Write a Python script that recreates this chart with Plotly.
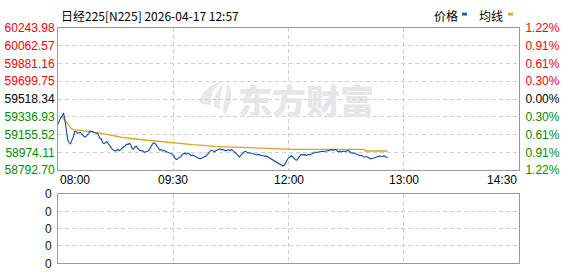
import plotly.graph_objects as go

# ---------------- data ----------------
price = [59264, 59303, 59330, 59344, 59376, 59300, 59218, 59100, 59075, 59062,
         59102, 59131, 59189, 59186, 59170, 59175, 59180, 59165, 59151, 59131,
         59137, 59151, 59170, 59192, 59189, 59185, 59175, 59170, 59170, 59151,
         59119, 59112, 59073, 59064, 59078, 59086, 59064, 59041, 59015, 59003,
         58996, 58989, 58996, 59006, 58991, 59006, 59025, 59032, 59038, 59059,
         59054, 59068, 59054, 59015, 59006, 59030, 59037, 59017, 59001, 58993,
         58989, 58989, 58976, 58978, 58986, 58994, 59015, 59044, 59068, 59070,
         59059, 59035, 59010, 58999, 59004, 58991, 58994, 58986, 58976, 58974,
         58967, 58964, 58952, 58938, 58909, 58902, 58914, 58923, 58933, 58957,
         58964, 58967, 58957, 58965, 58962, 58945, 58946, 58945, 58936, 58926,
         58918, 58912, 58911, 58916, 58925, 58930, 58938, 58952, 58976, 58991,
         58999, 58990, 58981, 58991, 59001, 59007, 59011, 59001, 59004, 58996,
         58991, 58998, 59004, 58991, 59004, 58996, 58981, 58971, 58957, 58942,
         58928, 58947, 58967, 58976, 58988, 58980, 58969, 58971, 58967, 58965,
         58965, 58957, 58949, 58955, 58952, 58945, 58941, 58941, 58935, 58939,
         58930, 58918, 58914, 58909, 58899, 58885, 58878, 58865, 58856, 58851,
         58844, 58836, 58846, 58875, 58904, 58920, 58928, 58940, 58928, 58914,
         58899, 58896, 58916, 58938, 58955, 58950, 58950, 58952, 58942, 58955,
         58949, 58952, 58961, 58969, 58979, 58974, 58978, 58981, 58985, 58987,
         58984, 58989, 58994, 58991, 58993, 59002, 59001, 58996, 59004, 59002,
         58988, 58981, 58987, 58980, 58988, 58982, 58984, 58994, 58994, 58979,
         58967, 58971, 58961, 58959, 58959, 58946, 58941, 58946, 58937, 58928,
         58930, 58933, 58922, 58917, 58909, 58913, 58920, 58928, 58931, 58934,
         58938, 58933, 58933, 58937, 58938, 58926, 58925]
minutes = list(range(len(price)))

avg_minutes = [3, 6, 9, 11, 15, 22, 28, 34, 46, 57, 69, 83, 87, 96, 104, 111,
               120, 128, 140, 152, 166, 168, 219, 220, 236]
avg_price = [59340, 59279, 59225, 59206, 59199, 59189, 59177, 59160, 59128,
             59109, 59090, 59070, 59064, 59054, 59047, 59037, 59032, 59028,
             59022, 59015, 59012, 59006, 59006, 58989, 58989]

price_ticks = [60243.98, 60062.57, 59881.16, 59699.75, 59518.34,
               59336.93, 59155.52, 58974.11, 58792.70]
base_price = 59518.34
total_minutes = 330
time_tick_pos = [0, 82.5, 165, 247.5, 330]
time_labels = ["08:00", "09:30", "12:00", "13:00", "14:30"]
vol_ticks = [0, 1, 2, 3, 4]
vol_labels = ["0", "0", "0", "0", "0"]

title_text = "日经225[N225] 2026-04-17 12:57"
legend_names = ["价格", "均线"]

# ---------------- style ----------------
W, H = 578, 276
RED, GREEN, BLACK = "#ff0000", "#008a00", "#000000"
BLUE_LINE, ORANGE_LINE = "#0b4ea2", "#e0a21c"
GRID = "#cfcfcf"
BORDER = "#999999"
FONT = "Liberation Sans, Arial, Noto Sans CJK SC, sans-serif"
CJK = "Noto Sans CJK SC, sans-serif"


def px_x(px):
    return px / W


def px_y(py):
    return 1 - py / H


def col(p):
    if p > base_price + 0.001:
        return RED
    if p < base_price - 0.001:
        return GREEN
    return BLACK


price_text = [f'<span style="color:{col(p)}">{p:.2f}</span>' for p in price_ticks]
pct_vals = [(p - base_price) / base_price * 100 for p in price_ticks]
pct_text = [f'<span style="color:{col(p)}">{abs(v):.2f}%</span>'
            for p, v in zip(price_ticks, pct_vals)]
pmin, pmax = min(price_ticks), max(price_ticks)
pct_min = (pmin - base_price) / base_price * 100
pct_max = (pmax - base_price) / base_price * 100
pct_series = [(p - base_price) / base_price * 100 for p in price]

xdom = [px_x(58), px_x(519)]
top_dom = [px_y(172), px_y(22)]
bot_dom = [px_y(270), px_y(197)]

fig = go.Figure()
# invisible helper traces so the percent axis and the lower panel are drawn
fig.add_trace(go.Scatter(x=minutes, y=pct_series, mode="lines",
                         line=dict(color="rgba(0,0,0,0)", width=0),
                         xaxis="x", yaxis="y2", hoverinfo="skip"))
fig.add_trace(go.Scatter(x=[0], y=[0], mode="markers",
                         marker=dict(color="rgba(0,0,0,0)", size=1),
                         xaxis="x2", yaxis="y3", hoverinfo="skip"))
fig.add_trace(go.Scatter(x=avg_minutes, y=avg_price, mode="lines",
                         line=dict(color=ORANGE_LINE, width=1.3),
                         xaxis="x", yaxis="y", hoverinfo="skip"))
fig.add_trace(go.Scatter(x=minutes, y=price, mode="lines",
                         line=dict(color=BLUE_LINE, width=1.1),
                         xaxis="x", yaxis="y", hoverinfo="skip"))

common_grid = dict(showgrid=True, gridcolor=GRID, griddash="4px,3px", gridwidth=1,
                   showline=True, mirror=True, linecolor=BORDER, linewidth=1,
                   zeroline=False, fixedrange=True)

fig.update_layout(
    width=W, height=H, autosize=False,
    margin=dict(l=0, r=0, t=0, b=0),
    paper_bgcolor="white", plot_bgcolor="white",
    showlegend=False,
    font=dict(family=FONT, size=12, color="#000"),
    xaxis=dict(domain=xdom, range=[0, total_minutes], tickvals=time_tick_pos,
               showticklabels=False, ticks="", anchor="y", **common_grid),
    yaxis=dict(domain=top_dom, range=[pmin, pmax], tickvals=price_ticks,
               ticktext=price_text, ticks="", anchor="x",
               tickfont=dict(family=FONT, size=12), **common_grid),
    yaxis2=dict(overlaying="y", side="right", anchor="x",
                range=[pct_min, pct_max], tickvals=pct_vals, ticktext=pct_text,
                ticks="outside", ticklen=3, tickcolor="rgba(0,0,0,0)",
                showgrid=False, zeroline=False, showline=False, fixedrange=True,
                tickfont=dict(family=FONT, size=12)),
    xaxis2=dict(domain=xdom, range=[0, total_minutes], tickvals=time_tick_pos,
                showticklabels=False, ticks="", anchor="y3", **common_grid),
    yaxis3=dict(domain=bot_dom, range=[vol_ticks[0], vol_ticks[-1]],
                tickvals=vol_ticks, ticktext=vol_labels, ticks="outside",
                ticklen=3, tickcolor="rgba(0,0,0,0)", anchor="x2",
                tickfont=dict(family=FONT, size=12, color="#111"), **common_grid),
)

annotations = []
# time labels
anchors = ["left", "center", "center", "center", "right"]
for pos, lab, anc in zip(time_tick_pos, time_labels, anchors):
    annotations.append(dict(x=pos, y=px_y(182), xref="x", yref="paper",
                            text=lab, showarrow=False, xanchor=anc,
                            yanchor="middle", font=dict(family=FONT, size=12)))
# title
annotations.append(dict(x=px_x(59), y=px_y(8.5), xref="paper", yref="paper",
                        text=title_text, showarrow=False, xanchor="left",
                        yanchor="middle", font=dict(family=CJK, size=12)))
# legend texts
annotations.append(dict(x=px_x(432), y=px_y(9), xref="paper", yref="paper",
                        text=legend_names[0], showarrow=False, xanchor="left",
                        yanchor="middle", font=dict(family=CJK, size=12)))
annotations.append(dict(x=px_x(477), y=px_y(9), xref="paper", yref="paper",
                        text=legend_names[1], showarrow=False, xanchor="left",
                        yanchor="middle", font=dict(family=CJK, size=12)))
# watermark
annotations.append(dict(x=px_x(306), y=px_y(97), xref="paper", yref="paper",
                        text="东方财富", showarrow=False, xanchor="center",
                        yanchor="middle",
                        font=dict(family=CJK, size=34, color="#e6e6ea", weight=900)))
fig.update_layout(annotations=annotations)


def path_from(points):
    segs = []
    for cmd, *pts in points:
        coords = " ".join(f"{px_x(a):.5f},{px_y(b):.5f}" for a, b in pts)
        segs.append(f"{cmd} {coords}")
    return " ".join(segs) + " Z"


logo_paths = [
    [("M", (199, 100)), ("Q", (203, 84), (221, 79)), ("Q", (209, 90), (211, 103)),
     ("Q", (205, 104), (199, 100))],
    [("M", (214, 105)), ("Q", (213, 90), (224, 80)), ("Q", (219, 95), (220, 108))],
    [("M", (227, 79)), ("Q", (237, 93), (224, 115)), ("Q", (222, 105), (225, 96)),
     ("Q", (227, 88), (227, 79))],
]
shapes = []
for pts in logo_paths:
    shapes.append(dict(type="path", xref="paper", yref="paper", path=path_from(pts),
                       fillcolor="#e8e8ec", line=dict(width=0), layer="below"))
# legend swatches
shapes.append(dict(type="rect", xref="paper", yref="paper",
                   x0=px_x(462), x1=px_x(467), y0=px_y(9), y1=px_y(6),
                   fillcolor="#1a5aa8", line=dict(width=0)))
shapes.append(dict(type="rect", xref="paper", yref="paper",
                   x0=px_x(508), x1=px_x(513), y0=px_y(9), y1=px_y(6),
                   fillcolor="#e6a817", line=dict(width=0)))
fig.update_layout(shapes=shapes)

fig.write_html("out.html", config={"displayModeBar": False})
